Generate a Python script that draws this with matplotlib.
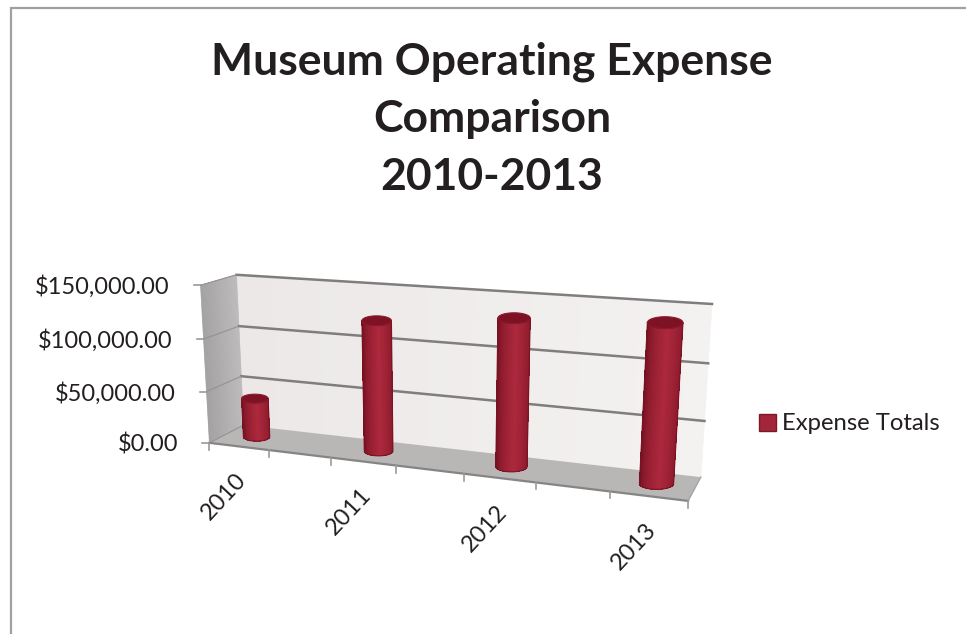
import numpy as np
import matplotlib
matplotlib.use("Agg")
import matplotlib.pyplot as plt
from matplotlib.collections import PolyCollection
from matplotlib.colors import to_rgb
from matplotlib.patches import Patch, Polygon

plt.rcParams['font.family'] = ['Lato', 'DejaVu Sans']

# data
years = ['2010', '2011', '2012', '2013']
expense_totals = [38000, 122000, 133000, 138000]
value_ticks = [0, 50000, 100000, 150000]
value_labels = ['$0.00', '$50,000.00', '$100,000.00', '$150,000.00']
series_name = 'Expense Totals'
title_lines = ['Museum Operating Expense', 'Comparison', '2010-2013']

# the chart has 7 slots on the category axis, the years sit in every other one
n_slots = 7
v_max = value_ticks[-1]

# box corners (slot, depth, value) -> where they land in the picture
corners = [
    ((0, 0, 0), (210, 443)),
    ((n_slots, 0, 0), (688, 501)),
    ((0, 1, 0), (243, 425)),
    ((n_slots, 1, 0), (701, 477)),
    ((0, 0, v_max), (200, 285)),
    ((0, 1, v_max), (237, 275)),
    ((n_slots, 1, v_max), (712, 304)),
]

text_color = '#231f20'


def fit_camera(pairs):
    rows, rhs = [], []
    for (x, y, z), (u, v) in pairs:
        z = z / v_max
        rows.append([x, y, z, 1, 0, 0, 0, 0, -u * x, -u * y, -u * z])
        rhs.append(u)
        rows.append([0, 0, 0, 0, x, y, z, 1, -v * x, -v * y, -v * z])
        rhs.append(v)
    p = np.linalg.lstsq(np.array(rows, float), np.array(rhs, float), rcond=None)[0]
    return np.append(p, 1).reshape(3, 4)


camera = fit_camera(corners)


def project(x, y, z):
    x, y, z = np.broadcast_arrays(np.asarray(x, float), np.asarray(y, float), np.asarray(z, float))
    pts = np.stack([x, y, z / v_max, np.ones_like(x, dtype=float)])
    u, v, w = np.tensordot(camera, pts, axes=1)
    return np.stack([u / w, v / w], axis=-1)


def lerp(c0, c1, t):
    c0, c1 = np.array(to_rgb(c0)), np.array(to_rgb(c1))
    return c0 + (c1 - c0) * t


def shaded_face(ax, p00, p10, p01, p11, c0, c1, n=40, zorder=1):
    # quad split in strips so the colour runs from c0 to c1
    polys, cols = [], []
    for i in range(n):
        a, b = i / n, (i + 1) / n
        q = [p00 + (p10 - p00) * a, p00 + (p10 - p00) * b, p01 + (p11 - p01) * b, p01 + (p11 - p01) * a]
        polys.append(q)
        cols.append(lerp(c0, c1, a))
    ax.add_collection(PolyCollection(polys, facecolors=cols, edgecolors=cols, linewidths=0.5, zorder=zorder))


def level_ellipse(slot, depth, val, half_slots, flatten, angles):
    # excel keeps the rims level on screen, so the ellipse is not sheared by the floor
    centre = project(slot, depth, val)
    half = 0.5 * (project(slot + half_slots, depth, val)[0] - project(slot - half_slots, depth, val)[0])
    return np.column_stack([centre[0] + half * np.cos(angles), centre[1] + half * flatten * np.sin(angles)])


fig = plt.figure(figsize=(9.66, 6.34), dpi=100)
ax = fig.add_axes([0, 0, 1, 1])
ax.set_xlim(0, 966)
ax.set_ylim(634, 0)
ax.axis('off')

# outer chart border, only top and left are in the crop
ax.plot([11, 11, 966], [634, 8, 8], color='#a0a0a2', lw=1.6, solid_joinstyle='miter', zorder=0)

# walls and floor
fbl, fbr = project(0, 0, 0), project(n_slots, 0, 0)
bbl, bbr = project(0, 1, 0), project(n_slots, 1, 0)
ftl, btl, btr = project(0, 0, v_max), project(0, 1, v_max), project(n_slots, 1, v_max)

shaded_face(ax, btl, btr, bbl, bbr, '#ece8e8', '#f4f1f1', zorder=1)
shaded_face(ax, ftl, btl, fbl, bbl, '#a3a1a1', '#bdbbbb', zorder=1)
ax.add_patch(Polygon([fbl, fbr, bbr, bbl], closed=True, facecolor='#b9b7b5', edgecolor='none', zorder=2))

# gridlines on the back wall and the side wall
grid_color = '#807e7c'
for val in value_ticks:
    back = project([0, n_slots], 1, val)
    side = project(0, [0, 1], val)
    if val > 0:
        ax.plot(back[:, 0], back[:, 1], color=grid_color, lw=1.8, zorder=3)
    ax.plot(side[:, 0], side[:, 1], color='#949292', lw=0.8, zorder=3)
    tick = side[0]
    ax.plot([tick[0] - 7, tick[0]], [tick[1], tick[1]], color='#9a9a9a', lw=1.2, zorder=3)

for val, label in zip(value_ticks, value_labels):
    tick = project(0, 0, val)
    ax.text(tick[0] - 31, tick[1] + 1.5, label, ha='right', va='center', fontsize=17, color=text_color, zorder=6)

# front edge of the floor and its ticks
front = project([0, n_slots], 0, 0)
ax.plot(front[:, 0], front[:, 1], color='#858585', lw=1.6, zorder=3)
side_edge = project(n_slots, [0, 1], 0)
ax.plot(side_edge[:, 0], side_edge[:, 1], color='#a5a5a5', lw=1.0, zorder=3)
for s in range(n_slots + 1):
    p = project(s, 0, 0)
    ax.plot([p[0], p[0]], [p[1], p[1] + 7], color='#9a9a9a', lw=1.2, zorder=3)

# cylinders
half_slots = 0.225
flatten = 0.33
bar_depth = 0.52
angles = np.linspace(0, 2 * np.pi, 129)
for i, (year, val) in enumerate(zip(years, expense_totals)):
    slot = 2 * i + 0.5
    low = level_ellipse(slot, bar_depth, 0, half_slots, flatten, angles)
    high = level_ellipse(slot, bar_depth, val, half_slots, flatten, angles)

    # front half of the body (lower half on screen), dark on both edges
    polys, cols = [], []
    near = np.where(np.sin(angles[:-1]) >= -1e-9)[0]
    for j in near:
        k = j + 1
        t = 0.5 * (1 + np.cos(0.5 * (angles[j] + angles[k])))
        shade = np.clip(1 - abs(t - 0.55) / 0.55, 0, 1) ** 0.5
        polys.append([low[j], low[k], high[k], high[j]])
        cols.append(lerp('#6f0f1f', '#ad283c', shade))
    # no antialiasing inside the body, it makes moire bands between the strips
    ax.add_collection(PolyCollection(polys, facecolors=cols, edgecolors='none', antialiaseds=False, zorder=4))
    rim = near[:-1] if near[-1] == len(angles) - 1 else near
    outline = np.vstack([low[rim], low[rim[-1] + 1], high[rim[-1] + 1], high[rim[::-1]]])
    ax.add_patch(Polygon(outline, closed=True, facecolor='none', edgecolor='#7a1324', lw=0.8, zorder=4.5))
    ax.add_patch(Polygon(high, closed=True, facecolor='#7c1224', edgecolor='#8a1a2c', lw=0.8, zorder=5))

    # year label under the front edge
    anchor = project(slot, 0, 0)
    ax.text(anchor[0] - 15, anchor[1] + 50, year, rotation=47, rotation_mode='anchor',
            ha='center', va='center', fontsize=17, color=text_color, zorder=6)

# title
for line, y in zip(title_lines, [62, 119, 177]):
    ax.text(492, y, line, ha='center', va='center', fontsize=32, fontweight='bold', color=text_color, zorder=6)

# legend
handle = Patch(facecolor='#a3253a', edgecolor='#7a1a2a', label=series_name)
ax.legend(handles=[handle], loc='center left', bbox_to_anchor=(759 / 966, 1 - 424 / 634), frameon=False,
          fontsize=17.2, labelcolor=text_color, handlelength=0.7, handleheight=0.7, handletextpad=0.28,
          borderpad=0, borderaxespad=0)

fig.savefig('out.png', dpi=100)
